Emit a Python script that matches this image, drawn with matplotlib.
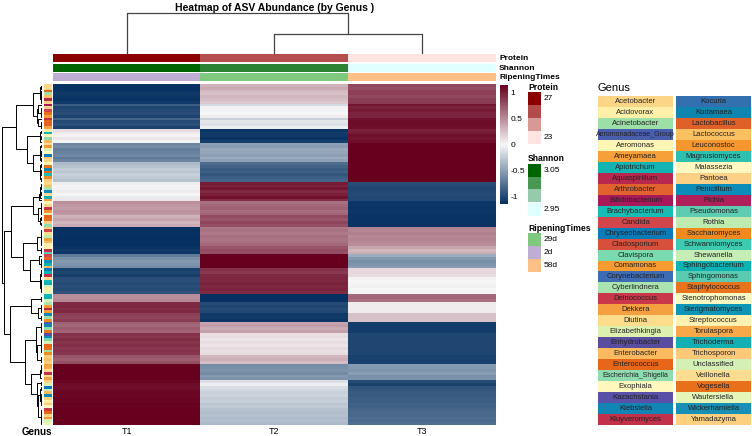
import matplotlib
matplotlib.use("Agg")
import matplotlib.pyplot as plt
import numpy as np
from matplotlib.colors import LinearSegmentedColormap, to_rgb
from matplotlib.patches import Rectangle

plt.rcParams['font.family'] = ['Liberation Sans', 'DejaVu Sans']
plt.rcParams['axes.unicode_minus'] = False

# ---- data ----
samples = ['T1', 'T2', 'T3']

t1 = [-1.13, -1.14, -1.12, -1.10, -1.11, -1.13, -1.09,
      -0.88,
      -1.02, -1.00, -0.98, -1.03,
      -0.85,
      -1.00, -0.97, -1.04,
      0.12, 0.06, 0.02, 0.08, -0.02,
      -0.66, -0.62, -0.70, -0.68, -0.64, -0.72, -0.66,
      -0.35, -0.30,
      -0.25, -0.28, -0.22, -0.26, -0.30,
      -0.05, 0.02, -0.03, 0.05, 0.00, -0.06, 0.08,
      0.48, 0.45, 0.42, 0.47, 0.44,
      0.32, 0.38, 0.30, 0.35,
      -1.15, -1.15, -1.14, -1.15, -1.15, -1.14, -1.15,
      -1.12, -1.10, -1.11,
      -0.72, -0.60, -0.55, -0.58, -0.62,
      -1.05, -1.02, -1.07,
      -0.98, -0.96, -1.00, -0.97, -0.99, -0.95,
      0.50, 0.48, 0.52,
      0.95, 0.97, 0.93, 0.96,
      0.85, 0.83, 0.87,
      0.70, 0.66, 0.72, 0.68,
      0.92, 0.90, 0.94, 0.91, 0.93, 0.89, 0.92, 0.90,
      0.75, 0.72, 0.78,
      1.15, 1.15, 1.15, 1.15, 1.15, 1.15,
      1.12, 1.10, 1.08, 1.10, 1.12, 1.11, 1.13, 1.12, 1.14, 1.13, 1.14, 1.15, 1.14, 1.15, 1.14, 1.15]

t2 = [0.32, 0.35, 0.28, 0.25, 0.30, 0.27, 0.22,
      -0.17,
      0.03, -0.02, 0.00, 0.05,
      -0.22,
      -0.09, -0.12, -0.04,
      -1.12, -1.08, -1.10, -1.13, -1.06,
      -0.49, -0.53, -0.45, -0.47, -0.51, -0.43, -0.49,
      -0.80, -0.85,
      -0.90, -0.87, -0.93, -0.89, -0.85,
      1.03, 0.98, 1.05, 0.96, 1.00, 1.07, 0.93,
      0.63, 0.66, 0.70, 0.64, 0.68,
      0.81, 0.75, 0.83, 0.78,
      0.60, 0.62, 0.58, 0.64, 0.61, 0.63, 0.66,
      0.75, 0.80, 0.77,
      1.15, 1.15, 1.15, 1.15, 1.15,
      0.92, 0.88, 0.95,
      0.97, 0.95, 0.99, 0.96, 0.98, 0.94,
      -1.15, -1.15, -1.15,
      -1.00, -1.02, -0.98, -1.01,
      -1.10, -1.09, -1.11,
      0.38, 0.42, 0.35, 0.40,
      0.10, 0.12, 0.08, 0.11, 0.09, 0.13, 0.10, 0.12,
      0.30, 0.34, 0.27,
      -0.62, -0.60, -0.58, -0.63, -0.55, -0.57,
      -0.12, -0.05, -0.15, -0.18, -0.22, -0.20, -0.25, -0.23, -0.28, -0.26, -0.30, -0.33, -0.31, -0.35, -0.32, -0.36]

t3 = [0.81, 0.79, 0.84, 0.85, 0.81, 0.86, 0.87,
      1.05,
      0.99, 1.02, 0.98, 0.98,
      1.07,
      1.09, 1.09, 1.08,
      1.00, 1.02, 1.08, 1.05, 1.08,
      1.15, 1.15, 1.15, 1.15, 1.15, 1.15, 1.15,
      1.15, 1.15,
      1.15, 1.15, 1.15, 1.15, 1.15,
      -0.98, -1.00, -1.02, -1.01, -1.00, -1.01, -1.01,
      -1.11, -1.11, -1.12, -1.11, -1.12,
      -1.13, -1.13, -1.13, -1.13,
      0.55, 0.53, 0.56, 0.51, 0.54, 0.51, 0.49,
      0.37, 0.30, 0.34,
      -0.43, -0.55, -0.60, -0.57, -0.53,
      0.13, 0.14, 0.12,
      0.02, 0.00, 0.01, 0.03, 0.00, 0.01,
      0.65, 0.67, 0.63,
      0.05, 0.05, 0.05, 0.05,
      0.25, 0.26, 0.24,
      -1.08, -1.08, -1.08, -1.08,
      -1.02, -1.02, -1.02, -1.02, -1.02, -1.02, -1.02, -1.02,
      -1.05, -1.05, -1.05,
      -0.53, -0.55, -0.57, -0.52, -0.60, -0.58,
      -1.00, -1.05, -0.93, -0.92, -0.90, -0.91, -0.88, -0.89, -0.86, -0.87, -0.84, -0.82, -0.83, -0.80, -0.82, -0.79]

genus_names = ['Acetobacter', 'Acidovorax', 'Acinetobacter', 'Aeromonadaceae_Group', 'Aeromonas',
               'Ameyamaea', 'Apiotrichum', 'Aquaspirillum', 'Arthrobacter', 'Bifidobacterium',
               'Brachybacterium', 'Candida', 'Chryseobacterium', 'Cladosporium', 'Clavispora',
               'Comamonas', 'Corynebacterium', 'Cyberlindnera', 'Deinococcus', 'Dekkera',
               'Diutina', 'Elizabethkingia', 'Enhydrobacter', 'Enterobacter', 'Enterococcus',
               'Escherichia_Shigella', 'Exophiala', 'Kazachstania', 'Klebsiella', 'Kluyveromyces',
               'Kocuria', 'Kodamaea', 'Lactobacillus', 'Lactococcus', 'Leuconostoc',
               'Magnusiomyces', 'Malassezia', 'Pantoea', 'Penicillium', 'Pichia',
               'Pseudomonas', 'Rothia', 'Saccharomyces', 'Schwanniomyces', 'Shewanella',
               'Sphingobacterium', 'Sphingomonas', 'Staphylococcus', 'Stenotrophomonas', 'Sterigmatomyces',
               'Streptococcus', 'Torulaspora', 'Trichoderma', 'Trichosporon', 'Unclassified',
               'Veillonella', 'Vogesella', 'Wautersiella', 'Wickerhamiella', 'Yamadazyma']

genus_colors = ['#FDD587', '#FEF0A8', '#9CE0A8', '#4A5EB0', '#FFF5B5',
                '#F6A03A', '#14B3B3', '#B8284E', '#E1622E', '#A8195A',
                '#17BDB5', '#D2454A', '#0A7BB8', '#D8503C', '#7ADBB0',
                '#F59B30', '#3D6CB5', '#A8E3B0', '#C8374A', '#F5A040',
                '#FDDD8C', '#DDF0B0', '#5A4DA0', '#FBBA60', '#E8661A',
                '#8EDCB0', '#FFF7BE', '#5A50A8', '#1285B5', '#C2304A',
                '#3270B0', '#0E86B0', '#E0602A', '#FBC060', '#F5962F',
                '#2DBFB0', '#FFF8C0', '#FDD088', '#0C8CB8', '#B0205A',
                '#5ECCB0', '#BDEBB0', '#F08A1E', '#3CCAB0', '#C5EDB5',
                '#0DB2B2', '#5ACBB0', '#E8741E', '#F5F8C0', '#0C95B5',
                '#FFF2B0', '#F8A848', '#13AFB5', '#FDC878', '#D5F0B5',
                '#FEDC90', '#E8701A', '#E5F5B8', '#1890B5', '#FDD080']

row_genus = [0, 20, 24, 2, 33, 7, 59, 9, 37, 11, 56, 5, 29, 24, 8, 19,
             1, 6, 50, 25, 23, 55, 15, 21, 36, 12, 53, 0, 4, 47,
             31, 24, 10, 42, 59, 20, 33, 17, 28, 55, 52, 5,
             26, 0, 18, 34, 57, 24, 56, 37, 25,
             59, 11, 20, 41, 5, 23, 1, 50, 29, 40,
             11, 8, 38, 6, 23, 12, 45, 29, 55, 10, 52, 21, 1, 57,
             6, 45, 54, 17, 15, 7, 5, 28, 2, 42,
             3, 31, 25, 47, 22, 38, 14, 54, 24, 56, 2, 42, 59, 33, 37,
             5, 51, 20, 29, 55, 19,
             0, 21, 12, 44, 23, 31, 59, 1, 53, 36, 18, 24, 0, 34, 54, 57]

# column tree: T2+T3 join first, then T1
col_merges = [(1, 2), (0, 3)]
col_heights = [0.49, 1.0]

protein = [27.0, 25.6, 23.0]
shannon = [3.05, 3.03, 2.95]
ripening = ['2d', '29d', '58d']
ripening_levels = ['29d', '2d', '58d']
ripening_colors = ['#7FC97F', '#BEAED4', '#FDC086']

data = np.array([t1, t2, t3]).T
n_rows = data.shape[0]


def adjacent_linkage(X):
    # complete linkage, only neighbouring clusters may merge (keeps row order)
    groups = [[i] for i in range(len(X))]
    nodes = [(i + 0.5, 0.0) for i in range(len(X))]
    segs = []
    while len(groups) > 1:
        d = []
        for k in range(len(groups) - 1):
            A, B = X[groups[k]], X[groups[k + 1]]
            d.append(np.sqrt(((A[:, None, :] - B[None, :, :]) ** 2).sum(-1)).max())
        k = int(np.argmin(d))
        (y1, h1), (y2, h2) = nodes[k], nodes[k + 1]
        h = max(d[k], h1, h2)
        segs.append(([h1, h, h, h2], [y1, y1, y2, y2]))
        groups[k:k + 2] = [groups[k] + groups[k + 1]]
        nodes[k:k + 2] = [((y1 + y2) / 2, h)]
    return segs, nodes[0][1]


W, H = 752, 436
fig = plt.figure(figsize=(W / 100, H / 100), dpi=100)


def px_axes(x0, y0, x1, y1):
    return fig.add_axes([x0 / W, 1 - y1 / H, (x1 - x0) / W, (y1 - y0) / H])


# heatmap
cmap = LinearSegmentedColormap.from_list('rb', ['#053061', '#F7F7F7', '#67001F'])
ax = px_axes(53, 84.5, 496, 425)
im = ax.imshow(data, cmap=cmap, vmin=-1.155, vmax=1.155, aspect='auto',
               interpolation='nearest', extent=(0, 3, n_rows, 0))
ax.set_xticks([0.5, 1.5, 2.5])
ax.set_xticklabels(samples, fontsize=6.5)
ax.tick_params(length=0, pad=1.5)
ax.set_yticks([])
for s in ax.spines.values():
    s.set_visible(False)

# genus strip
axg = px_axes(44, 84.5, 52, 425)
axg.imshow(np.array([[to_rgb(genus_colors[g])] for g in row_genus]), aspect='auto',
           interpolation='nearest', extent=(0, 1, n_rows, 0))
axg.axis('off')
fig.text(52 / W, 1 - 432 / H, 'Genus', ha='right', va='center', fontsize=7, fontweight='bold')

# row dendrogram
segs, root = adjacent_linkage(data)
axr = px_axes(0, 84.5, 42, 425)
for xs, ys in segs:
    axr.plot(xs, ys, color='black', lw=0.7)
axr.set_ylim(n_rows, 0)
axr.set_xlim(root * 42 / 40.5, 0)
axr.axis('off')

# column dendrogram
axc = px_axes(53, 12, 496, 54)
cnodes = [(i + 0.5, 0.0) for i in range(len(samples))]
for (a, b), h in zip(col_merges, col_heights):
    (x1, h1), (x2, h2) = cnodes[a], cnodes[b]
    axc.plot([x1, x1, x2, x2], [h1, h, h, h2], color='#444444', lw=0.9)
    cnodes.append(((x1 + x2) / 2, h))
axc.set_xlim(0, 3)
axc.set_ylim(0, max(col_heights) * 42 / 41)
axc.axis('off')
fig.text(274.5 / W, 1 - 8 / H, 'Heatmap of ASV Abundance (by Genus )', ha='center', va='center',
         fontsize=7.5, fontweight='bold')

# annotation bars
prot_cmap = LinearSegmentedColormap.from_list('prot', ['#FFE4E1', '#8B0000'])
shan_cmap = LinearSegmentedColormap.from_list('shan', ['#E0FFFF', '#006400'])
annos = [('Protein', [prot_cmap((v - 23) / 4) for v in protein], 54.5),
         ('Shannon', [shan_cmap((v - 2.95) / 0.1) for v in shannon], 64),
         ('RipeningTimes', [ripening_colors[ripening_levels.index(r)] for r in ripening], 73.5)]
for name, cols, top in annos:
    a = px_axes(53, top, 496, top + 8)
    a.imshow(np.array([[to_rgb(c) for c in cols]]), aspect='auto', interpolation='nearest',
             extent=(0, 3, 1, 0))
    a.axis('off')
    fig.text(499 / W, 1 - (top + 4) / H, name, ha='left', va='center', fontsize=6, fontweight='bold')

# colorbar
cax = px_axes(500, 85, 508, 204)
cb = fig.colorbar(im, cax=cax, ticks=[-1, -0.5, 0, 0.5, 1])
cb.ax.set_yticklabels(['-1', '-0.5', '0', '0.5', '1'])
cb.ax.tick_params(length=0, labelsize=6, pad=2)
cb.outline.set_visible(False)

# legends drawn in pixel space
lg = fig.add_axes([0, 0, 1, 1], facecolor='none')
lg.set_xlim(0, W)
lg.set_ylim(H, 0)
lg.axis('off')


def box_legend(title, ty, cols, labels):
    lg.text(528, ty, title, fontsize=6.2, fontweight='bold', va='center', ha='left')
    for i, c in enumerate(cols):
        lg.add_patch(Rectangle((528, ty + 5 + 13 * i), 13, 13, facecolor=c, edgecolor='none'))
    for i, lab in labels:
        lg.text(543.5, ty + 11.5 + 13 * i, lab, fontsize=6, va='center', ha='left')


steps = [1.0, 2 / 3, 1 / 3, 0.0]
box_legend('Protein', 87, [prot_cmap(v) for v in steps], [(0, '27'), (3, '23')])
box_legend('Shannon', 158.5, [shan_cmap(v) for v in steps], [(0, '3.05'), (3, '2.95')])
box_legend('RipeningTimes', 228, ripening_colors, list(enumerate(ripening_levels)))

# genus legend
lg.text(597, 88, 'Genus', fontsize=8, va='center', ha='left')
rh = 329 / 30
for i, (g, c) in enumerate(zip(genus_names, genus_colors)):
    col, row = divmod(i, 30)
    x0 = 598 + col * 78
    y0 = 96 + row * rh
    lg.add_patch(Rectangle((x0, y0), 75, rh, facecolor=c, edgecolor='none'))
    lg.text(x0 + 37.5, y0 + rh / 2, g, fontsize=5.5 if len(g) < 17 else 5.0,
            color='#222222', ha='center', va='center')

fig.savefig('out.png', dpi=100)
